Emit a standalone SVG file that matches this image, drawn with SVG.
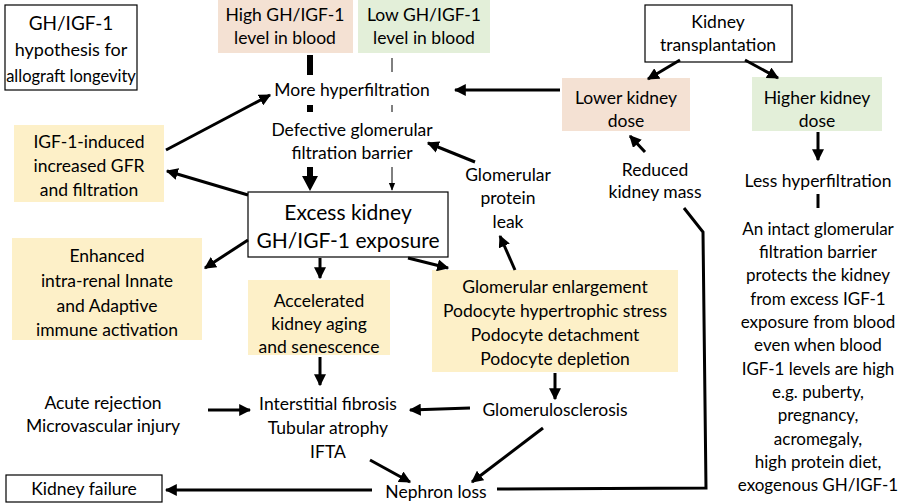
<svg xmlns="http://www.w3.org/2000/svg" width="900" height="503" viewBox="0 0 900 503">
<defs>
<style>
text{font-family:Lato,"Open Sans","Liberation Sans",sans-serif;font-size:17.5px;fill:#000;text-anchor:middle}
.big{font-size:21px}
.tt{font-size:16.5px}
.sm{font-size:17px}
.box{stroke:#000;stroke-width:1.2;fill:#fff}
.y{fill:#fdf0c8}.o{fill:#f4e1d3}.g{fill:#e3efd9}
.c{stroke:#000;stroke-width:3;fill:none}
</style>
<marker id="a" viewBox="0 0 10 10" refX="9" refY="5" markerWidth="4" markerHeight="4" orient="auto"><path d="M0,0L10,5L0,10z"/></marker>
<marker id="t" viewBox="0 0 10 10" refX="9" refY="5" markerWidth="8" markerHeight="8" orient="auto"><path d="M0,1L10,5L0,9z"/></marker>
</defs>
<rect width="900" height="503" fill="#fff"/>
<g id="title"><rect class="box" x="5" y="5" width="132" height="85"/><text class="tt" x="71" y="30" style="font-size:19px">GH/IGF-1</text><text class="tt" x="71" y="56" style="font-size:18px">hypothesis for</text><text class="tt" x="71" y="82">allograft longevity</text></g>
<g id="high"><rect class="o" x="218" y="0" width="135" height="53"/><text x="285" y="21">High GH/IGF-1</text><text x="285" y="44">level in blood</text></g>
<g id="low"><rect class="g" x="358" y="0" width="132" height="53"/><text x="424" y="21">Low GH/IGF-1</text><text x="424" y="44">level in blood</text></g>
<g id="morehyper"><text x="352" y="96">More hyperfiltration</text></g>
<g id="defective"><text x="352" y="136">Defective glomerular</text><text x="352" y="159">filtration barrier</text></g>
<g id="excess"><rect class="box" x="248" y="192" width="200" height="65"/><text class="big" x="348" y="220">Excess kidney</text><text class="big" x="348" y="248">GH/IGF-1 exposure</text></g>
<g id="igfgfr"><rect class="y" x="14" y="125" width="150" height="77"/><text x="89" y="148">IGF-1-induced</text><text x="89" y="172">increased GFR</text><text x="89" y="196">and filtration</text></g>
<g id="transplant"><rect class="box" x="645" y="5" width="147" height="57"/><text x="718" y="28">Kidney</text><text x="718" y="51">transplantation</text></g>
<g id="lower"><rect class="o" x="562" y="78" width="128" height="53"/><text x="626" y="104">Lower kidney</text><text x="626" y="127">dose</text></g>
<g id="higher"><rect class="g" x="752" y="77" width="130" height="54"/><text x="817" y="104">Higher kidney</text><text x="817" y="127">dose</text></g>
<g id="reduced"><text x="655" y="176">Reduced</text><text x="655" y="198">kidney mass</text></g>
<g id="leak"><text x="508" y="181">Glomerular</text><text x="508" y="204">protein</text><text x="508" y="228">leak</text></g>
<g id="lesshyper"><text x="818" y="187">Less hyperfiltration</text></g>
<g id="intact"><text class="sm" x="818" y="235">An intact glomerular</text><text class="sm" x="818" y="258">filtration barrier</text><text class="sm" x="818" y="281">protects the kidney</text><text class="sm" x="818" y="305">from excess IGF-1</text><text class="sm" x="818" y="328">exposure from blood</text><text class="sm" x="818" y="351">even when blood</text><text class="sm" x="818" y="375">IGF-1 levels are high</text><text class="sm" x="818" y="398">e.g. puberty,</text><text class="sm" x="818" y="421">pregnancy,</text><text class="sm" x="818" y="445">acromegaly,</text><text class="sm" x="818" y="468">high protein diet,</text><text class="sm" x="818" y="491">exogenous GH/IGF-1</text></g>
<g id="immune"><rect class="y" x="12" y="238" width="190" height="102"/><text x="107" y="262">Enhanced</text><text x="107" y="287">intra-renal Innate</text><text x="107" y="312">and Adaptive</text><text x="107" y="336">immune activation</text></g>
<g id="aging"><rect class="y" x="248" y="280" width="142" height="75"/><text x="319" y="307">Accelerated</text><text x="319" y="330">kidney aging</text><text x="319" y="353">and senescence</text></g>
<g id="glom"><rect class="y" x="432" y="270" width="246" height="102"/><text x="555" y="293">Glomerular enlargement</text><text x="555" y="317">Podocyte hypertrophic stress</text><text x="555" y="341">Podocyte detachment</text><text x="555" y="365">Podocyte depletion</text></g>
<g id="acute"><text x="103" y="409">Acute rejection</text><text x="103" y="432">Microvascular injury</text></g>
<g id="ifta"><text x="328" y="410">Interstitial fibrosis</text><text x="328" y="434">Tubular atrophy</text><text x="328" y="458">IFTA</text></g>
<g id="gs"><text x="555" y="416">Glomerulosclerosis</text></g>
<g id="nephron"><text x="436" y="498">Nephron loss</text></g>
<g id="failure"><rect class="box" x="6" y="475" width="156" height="27"/><text x="84" y="495">Kidney failure</text></g>
<g id="connectors">
<line x1="310" y1="55" x2="310" y2="75" stroke="#000" stroke-width="6"/>
<line x1="310" y1="105" x2="310" y2="112" stroke="#000" stroke-width="6"/>
<line x1="310" y1="167" x2="310" y2="178" stroke="#000" stroke-width="6"/>
<polygon points="302,176 318,176 310,191"/>
<line x1="392" y1="58" x2="392" y2="72" stroke="#000" stroke-width="1"/>
<line x1="392" y1="105" x2="392" y2="112" stroke="#000" stroke-width="1"/>
<line x1="392" y1="167" x2="392" y2="190" stroke="#000" stroke-width="1" marker-end="url(#t)"/>
<line class="c" x1="166" y1="150" x2="270" y2="95" marker-end="url(#a)"/>
<line class="c" x1="248" y1="195" x2="167" y2="171" marker-end="url(#a)"/>
<line class="c" x1="680" y1="60" x2="648" y2="79" marker-end="url(#a)"/>
<line class="c" x1="745" y1="60" x2="778" y2="78" marker-end="url(#a)"/>
<line class="c" x1="560" y1="90" x2="455" y2="90" marker-end="url(#a)"/>
<line class="c" x1="645" y1="152" x2="630" y2="136" marker-end="url(#a)"/>
<line class="c" x1="475" y1="162" x2="428" y2="143" marker-end="url(#a)"/>
<line class="c" x1="818" y1="132" x2="818" y2="160" marker-end="url(#a)"/>
<line class="c" x1="818" y1="194" x2="818" y2="208"/>
<line class="c" x1="248" y1="240" x2="205" y2="268" marker-end="url(#a)"/>
<line class="c" x1="320" y1="258" x2="320" y2="278" marker-end="url(#a)"/>
<line class="c" x1="408" y1="258" x2="448" y2="268" marker-end="url(#a)"/>
<line class="c" x1="515" y1="270" x2="500" y2="236" marker-end="url(#a)"/>
<line class="c" x1="320" y1="357" x2="320" y2="385" marker-end="url(#a)"/>
<line class="c" x1="208" y1="410" x2="250" y2="410" marker-end="url(#a)"/>
<line class="c" x1="470" y1="408" x2="410" y2="410" marker-end="url(#a)"/>
<line class="c" x1="555" y1="373" x2="555" y2="399" marker-end="url(#a)"/>
<line class="c" x1="370" y1="460" x2="410" y2="482" marker-end="url(#a)"/>
<line class="c" x1="543" y1="428" x2="472" y2="482" marker-end="url(#a)"/>
<line class="c" x1="372" y1="490" x2="166" y2="490" marker-end="url(#a)"/>
<polyline class="c" points="684,208 703,232 706,488 497,489"/>
</g>
</svg>
